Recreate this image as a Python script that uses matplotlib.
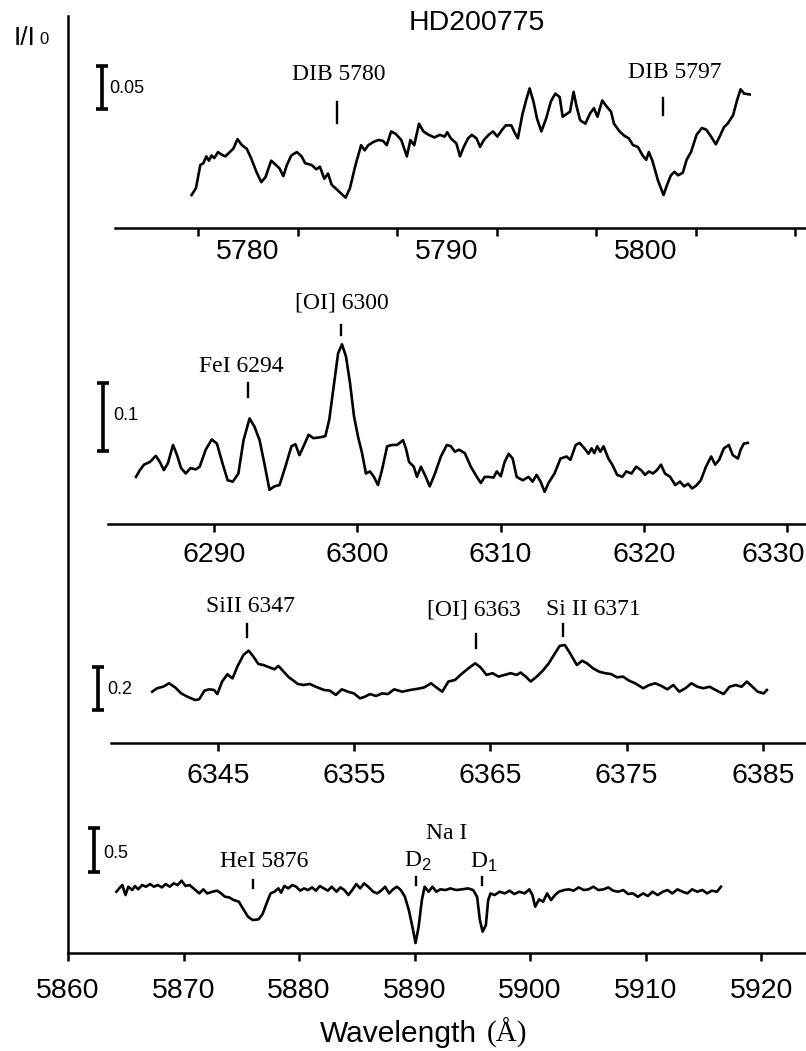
import matplotlib.pyplot as plt
from matplotlib.transforms import ScaledTranslation

plt.rcParams['font.family'] = ['Liberation Sans', 'DejaVu Sans']
plt.rcParams['mathtext.fontset'] = 'custom'
plt.rcParams['mathtext.rm'] = 'Liberation Serif'
plt.rcParams['mathtext.sf'] = 'Liberation Sans'

# ---- data (wavelength in Angstrom, relative intensity I/I0) ----
dib_wl = [5777.16, 5777.38, 5777.60, 5777.75, 5777.90, 5778.03, 5778.16, 5778.30, 5778.49, 5778.67,
          5778.86, 5779.08, 5779.26, 5779.47, 5779.69, 5779.93, 5780.15, 5780.42, 5780.66, 5780.88,
          5781.16, 5781.40, 5781.58, 5781.77, 5781.95, 5782.17, 5782.45, 5782.69, 5782.87, 5783.19,
          5783.43, 5783.61, 5783.83, 5784.02, 5784.20, 5784.48, 5784.90, 5785.12, 5785.40, 5785.68,
          5785.86, 5786.04, 5786.32, 5786.56, 5786.78, 5786.97, 5787.19, 5787.43, 5787.70, 5787.85,
          5787.98, 5788.16, 5788.35, 5788.59, 5788.81, 5789.08, 5789.36, 5789.64, 5789.88, 5790.01,
          5790.19, 5790.47, 5790.65, 5790.84, 5791.06, 5791.24, 5791.48, 5791.66, 5791.85, 5792.09,
          5792.31, 5792.53, 5792.77, 5792.95, 5793.23, 5793.41, 5793.56, 5793.78, 5793.97, 5794.15,
          5794.34, 5794.52, 5794.74, 5794.98, 5795.22, 5795.44, 5795.66, 5795.81, 5795.99, 5796.18,
          5796.36, 5796.51, 5796.69, 5796.95, 5797.19, 5797.38, 5797.56, 5797.80, 5798.02, 5798.24,
          5798.39, 5798.67, 5798.91, 5799.13, 5799.35, 5799.59, 5799.83, 5800.01, 5800.14, 5800.32,
          5800.60, 5800.88, 5801.06, 5801.25, 5801.43, 5801.61, 5801.85, 5802.04, 5802.26, 5802.54,
          5802.81, 5803.03, 5803.27, 5803.51, 5803.70, 5803.92, 5804.10, 5804.38, 5804.56, 5804.75,
          5804.93, 5805.21]
dib_flux = [0.938, 0.946, 0.973, 0.975, 0.983, 0.978, 0.984, 0.981, 0.988, 0.985,
            0.983, 0.988, 0.992, 1.003, 0.996, 0.992, 0.981, 0.965, 0.953, 0.959,
            0.978, 0.973, 0.969, 0.960, 0.973, 0.984, 0.988, 0.983, 0.975, 0.973,
            0.968, 0.971, 0.957, 0.963, 0.950, 0.944, 0.935, 0.946, 0.973, 0.996,
            0.990, 0.996, 1.000, 1.002, 1.001, 0.996, 1.012, 1.009, 1.002, 0.992,
            0.983, 1.002, 0.996, 1.021, 1.012, 1.008, 1.005, 1.008, 1.006, 1.011,
            1.004, 0.998, 0.983, 0.994, 1.004, 1.008, 1.004, 0.994, 1.002, 1.008,
            1.012, 1.006, 1.014, 1.019, 1.019, 1.010, 1.004, 1.031, 1.048, 1.062,
            1.047, 1.027, 1.012, 1.027, 1.047, 1.056, 1.052, 1.029, 1.032, 1.035,
            1.058, 1.041, 1.025, 1.021, 1.033, 1.039, 1.029, 1.048, 1.041, 1.035,
            1.021, 1.012, 1.007, 1.004, 0.996, 0.994, 0.984, 0.979, 0.988, 0.978,
            0.955, 0.938, 0.950, 0.961, 0.965, 0.961, 0.964, 0.979, 0.988, 1.008,
            1.016, 1.014, 1.006, 0.997, 1.006, 1.017, 1.021, 1.031, 1.047, 1.061,
            1.056, 1.055]

oi_wl = [6284.55, 6284.83, 6285.11, 6285.53, 6285.94, 6286.22, 6286.50, 6286.78, 6287.14, 6287.42,
         6287.70, 6288.03, 6288.36, 6288.73, 6289.00, 6289.42, 6289.84, 6290.20, 6290.59, 6290.95,
         6291.31, 6291.70, 6292.06, 6292.48, 6292.82, 6293.18, 6293.51, 6293.87, 6294.21, 6294.57,
         6294.98, 6295.40, 6295.68, 6295.96, 6296.29, 6296.60, 6296.93, 6297.35, 6297.77, 6298.04,
         6298.38, 6298.66, 6298.93, 6299.21, 6299.49, 6299.77, 6300.05, 6300.33, 6300.60, 6300.88,
         6301.16, 6301.44, 6301.72, 6302.08, 6302.44, 6302.77, 6303.19, 6303.39, 6303.61, 6303.94,
         6304.16, 6304.44, 6304.78, 6305.05, 6305.42, 6305.83, 6306.25, 6306.53, 6306.81, 6307.09,
         6307.50, 6307.92, 6308.34, 6308.62, 6308.89, 6309.17, 6309.51, 6309.73, 6310.01, 6310.28,
         6310.56, 6310.84, 6311.12, 6311.54, 6311.95, 6312.23, 6312.51, 6312.79, 6313.07, 6313.34,
         6313.76, 6314.18, 6314.60, 6314.87, 6315.24, 6315.51, 6315.85, 6316.13, 6316.35, 6316.54,
         6316.74, 6316.96, 6317.18, 6317.52, 6317.79, 6318.13, 6318.49, 6318.77, 6319.13, 6319.46,
         6319.80, 6320.08, 6320.35, 6320.63, 6320.91, 6321.19, 6321.47, 6321.83, 6322.19, 6322.52,
         6322.80, 6323.08, 6323.36, 6323.64, 6323.97, 6324.33, 6324.69, 6324.97, 6325.25, 6325.58,
         6325.92, 6326.20, 6326.56, 6326.75, 6326.97, 6327.25]
oi_flux = [0.980, 0.990, 0.998, 1.002, 1.011, 1.002, 0.990, 1.000, 1.027, 1.012,
           0.993, 0.985, 0.993, 0.991, 0.995, 1.020, 1.035, 1.029, 1.000, 0.975,
           0.973, 0.985, 1.034, 1.066, 1.054, 1.034, 1.000, 0.961, 0.966, 0.968,
           0.995, 1.025, 1.028, 1.012, 1.027, 1.042, 1.037, 1.038, 1.040, 1.064,
           1.118, 1.162, 1.175, 1.157, 1.118, 1.069, 1.039, 1.015, 0.985, 0.988,
           0.980, 0.968, 0.990, 1.025, 1.027, 1.027, 1.034, 1.022, 1.002, 0.995,
           0.980, 0.995, 0.980, 0.966, 0.985, 1.010, 1.027, 1.025, 1.017, 1.020,
           1.015, 0.995, 0.980, 0.971, 0.980, 0.980, 0.979, 0.988, 0.981, 1.002,
           1.014, 1.007, 0.980, 0.975, 0.980, 0.973, 0.983, 0.973, 0.958, 0.971,
           0.985, 1.007, 1.010, 1.005, 1.027, 1.030, 1.022, 1.014, 1.022, 1.015,
           1.025, 1.017, 1.025, 1.007, 0.998, 0.983, 0.980, 0.988, 0.985, 0.995,
           0.990, 0.983, 0.988, 0.985, 0.990, 0.998, 0.985, 0.980, 0.968, 0.973,
           0.966, 0.970, 0.963, 0.967, 0.975, 0.995, 1.010, 0.998, 1.005, 1.022,
           1.027, 1.012, 1.007, 1.020, 1.029, 1.030]

si_wl = [6340.17, 6340.53, 6340.97, 6341.41, 6341.85, 6342.30, 6342.74, 6343.33, 6343.62, 6344.01,
         6344.36, 6344.71, 6344.95, 6345.30, 6345.69, 6346.07, 6346.42, 6346.87, 6347.25, 6347.60,
         6347.96, 6348.34, 6348.78, 6349.14, 6349.43, 6349.82, 6350.20, 6350.55, 6350.85, 6351.29,
         6351.73, 6352.18, 6352.77, 6353.21, 6353.65, 6354.09, 6354.53, 6354.98, 6355.42, 6355.80,
         6356.16, 6356.60, 6357.04, 6357.48, 6357.93, 6358.52, 6359.11, 6359.70, 6360.14, 6360.64,
         6361.11, 6361.46, 6361.91, 6362.41, 6362.94, 6363.47, 6363.88, 6364.27, 6364.71, 6365.15,
         6365.59, 6366.04, 6366.48, 6366.92, 6367.21, 6367.60, 6367.95, 6368.39, 6368.84, 6369.28,
         6369.66, 6370.08, 6370.46, 6370.84, 6371.34, 6371.73, 6372.08, 6372.52, 6372.97, 6373.41,
         6373.85, 6374.29, 6374.74, 6375.18, 6375.62, 6376.21, 6376.65, 6377.09, 6377.54, 6377.98,
         6378.42, 6378.86, 6379.31, 6379.75, 6380.19, 6380.63, 6381.08, 6381.52, 6382.11, 6382.55,
         6382.99, 6383.43, 6383.82, 6384.23, 6384.61, 6385.06, 6385.29]
si_flux = [0.961, 0.977, 0.984, 1.000, 0.981, 0.953, 0.938, 0.922, 0.926, 0.966,
           0.972, 0.969, 0.950, 1.008, 1.042, 1.023, 1.078, 1.132, 1.152, 1.124,
           1.090, 1.085, 1.074, 1.065, 1.081, 1.054, 1.028, 1.012, 0.997, 0.992,
           0.997, 0.984, 0.969, 0.966, 0.946, 0.972, 0.961, 0.953, 0.930, 0.938,
           0.950, 0.941, 0.953, 0.950, 0.972, 0.961, 0.969, 0.975, 0.981, 1.000,
           0.977, 0.961, 1.008, 1.016, 1.047, 1.074, 1.093, 1.074, 1.039, 1.047,
           1.031, 1.039, 1.047, 1.039, 1.050, 1.031, 1.008, 1.031, 1.059, 1.093,
           1.132, 1.174, 1.178, 1.140, 1.085, 1.105, 1.093, 1.070, 1.054, 1.047,
           1.043, 1.028, 1.031, 1.012, 1.000, 0.977, 0.992, 1.000, 0.988, 0.972,
           0.992, 0.961, 0.977, 1.000, 0.984, 0.977, 0.984, 0.969, 0.950, 0.984,
           0.992, 0.984, 1.008, 0.984, 0.961, 0.953, 0.969]

na_wl = [5864.19, 5864.43, 5864.70, 5864.98, 5865.22, 5865.56, 5865.80, 5866.07, 5866.41, 5866.75,
         5867.10, 5867.44, 5867.78, 5868.12, 5868.46, 5868.81, 5869.15, 5869.49, 5869.83, 5870.17,
         5870.52, 5871.03, 5871.37, 5871.71, 5872.06, 5872.50, 5872.91, 5873.25, 5873.59, 5873.94,
         5874.35, 5874.79, 5875.13, 5875.58, 5875.99, 5876.50, 5876.84, 5877.19, 5877.53, 5877.87,
         5878.21, 5878.45, 5878.72, 5879.07, 5879.41, 5879.75, 5880.09, 5880.43, 5880.78, 5881.12,
         5881.46, 5881.80, 5882.14, 5882.49, 5882.83, 5883.24, 5883.58, 5883.92, 5884.27, 5884.61,
         5884.95, 5885.29, 5885.63, 5885.98, 5886.42, 5886.76, 5887.10, 5887.45, 5887.79, 5888.13,
         5888.47, 5888.81, 5889.16, 5889.50, 5889.84, 5890.08, 5890.35, 5890.63, 5890.87, 5891.21,
         5891.55, 5891.89, 5892.23, 5892.68, 5893.09, 5893.60, 5894.11, 5894.63, 5895.07, 5895.41,
         5895.65, 5895.89, 5896.17, 5896.37, 5896.58, 5896.92, 5897.36, 5897.81, 5898.22, 5898.63,
         5899.07, 5899.52, 5899.93, 5900.20, 5900.44, 5900.78, 5901.13, 5901.47, 5901.81, 5902.15,
         5902.49, 5902.94, 5903.35, 5903.76, 5904.20, 5904.65, 5905.06, 5905.47, 5905.91, 5906.36,
         5906.77, 5907.18, 5907.62, 5908.07, 5908.48, 5908.89, 5909.33, 5909.78, 5910.19, 5910.60,
         5911.04, 5911.49, 5911.90, 5912.31, 5912.75, 5913.20, 5913.61, 5914.02, 5914.46, 5914.91,
         5915.32, 5915.73, 5916.17, 5916.52]
na_flux = [0.943, 0.981, 1.019, 0.905, 1.000, 0.962, 1.008, 0.970, 1.019, 1.000,
           1.030, 1.000, 1.019, 0.992, 1.030, 1.000, 1.038, 1.019, 1.068, 1.008,
           1.019, 0.962, 0.924, 0.970, 0.924, 0.943, 0.955, 0.924, 0.886, 0.879,
           0.848, 0.830, 0.754, 0.659, 0.621, 0.629, 0.689, 0.811, 0.924, 0.943,
           0.981, 0.932, 1.008, 0.981, 1.019, 1.000, 0.955, 0.981, 0.962, 0.992,
           0.955, 1.008, 0.981, 0.955, 1.000, 0.943, 0.992, 0.962, 0.905, 0.962,
           1.030, 0.981, 1.038, 1.000, 0.943, 0.924, 0.955, 1.000, 0.924, 0.970,
           1.000, 0.962, 0.886, 0.735, 0.527, 0.360, 0.545, 0.848, 1.000, 0.943,
           1.000, 0.943, 0.970, 0.962, 0.981, 0.962, 0.970, 0.981, 0.962, 0.886,
           0.621, 0.489, 0.564, 0.848, 0.924, 0.905, 0.943, 0.924, 0.955, 0.917,
           0.943, 0.924, 0.970, 0.905, 0.773, 0.856, 0.830, 0.924, 0.848, 0.905,
           0.943, 0.962, 0.970, 0.955, 0.992, 0.962, 0.970, 1.000, 0.962, 0.970,
           0.992, 0.955, 0.943, 0.962, 0.917, 0.924, 0.886, 0.924, 0.894, 0.943,
           0.905, 0.943, 0.962, 0.924, 0.970, 0.943, 0.924, 0.970, 0.943, 0.962,
           0.924, 0.955, 0.943, 1.000]

dib_ticks = [5780, 5790, 5800]
dib_minor = [5777.5, 5782.5, 5787.5, 5792.5, 5797.5, 5802.5, 5807.5]
oi_ticks = [6290, 6300, 6310, 6320, 6330]
si_ticks = [6345, 6355, 6365, 6375, 6385]
na_ticks = [5860, 5870, 5880, 5890, 5900, 5910, 5920]

W, H = 806, 1051
fig = plt.figure(figsize=(W / 100, H / 100), dpi=100)

LW = 1.9       # spectrum line
AXLW = 1.8     # axis lines


def box(x0, y0, x1, y1):
    # pixel box (top-left origin) -> figure rect
    return [x0 / W, 1 - y1 / H, (x1 - x0) / W, (y1 - y0) / H]


def style_panel(ax, xlim, ylim, start, pad):
    ax.set_xlim(xlim)
    ax.set_ylim(ylim)
    ax.patch.set_visible(False)
    for side in ('top', 'right', 'left'):
        ax.spines[side].set_visible(False)
    ax.spines['bottom'].set_bounds(start, xlim[1])
    ax.spines['bottom'].set_linewidth(AXLW)
    ax.set_yticks([])
    ax.tick_params(axis='x', which='both', direction='out', length=6, width=AXLW,
                   labelsize=20.5, pad=pad)


def mark(ax, x, y0, y1, label, tx, ty):
    ax.plot([x, x], [y0, y1], color='black', lw=1.7)
    ax.text(tx, ty, label, ha='center', va='center', fontsize=17,
            family=['Liberation Serif', 'DejaVu Serif'])


def scale_bar(ax, x, y0, y1, label, tx, ty):
    ax.errorbar([x], [(y0 + y1) / 2], yerr=[(y1 - y0) / 2], fmt='none', ecolor='black',
                elinewidth=2.6, capsize=4, capthick=2.6)
    ax.text(tx, ty, label, ha='left', va='center', fontsize=13)


ax4 = fig.add_axes(box(68, 16, 806, 953))
ax1 = fig.add_axes(box(68, 40, 806, 228))
ax2 = fig.add_axes(box(68, 290, 806, 524))
ax3 = fig.add_axes(box(68, 590, 806, 743))

# top panel: DIBs
style_panel(ax1, (5770.95, 5808.04), (0.8997, 1.1183), 5773.3, 8)
ax1.set_xticks(dib_ticks)
ax1.set_xticks(dib_minor, minor=True)
ax1.tick_params(axis='x', which='major', length=0)
ax1.plot(dib_wl, dib_flux, color='black', lw=LW, solid_joinstyle='round')
mark(ax1, 5784.48, 1.022, 1.046, 'DIB 5780', 5784.57, 1.078)
mark(ax1, 5800.84, 1.031, 1.051, 'DIB 5797', 5801.46, 1.081)
scale_bar(ax1, 5772.66, 1.038, 1.088, '0.05', 5773.02, 1.062)

# [OI] 6300 panel
style_panel(ax2, (6279.81, 6331.31), (0.9107, 1.2549), 6282.6, 7)
ax2.set_xticks(oi_ticks)
ax2.plot(oi_wl, oi_flux, color='black', lw=LW, solid_joinstyle='round')
mark(ax2, 6292.35, 1.098, 1.118, 'FeI 6294', 6291.88, 1.142)
mark(ax2, 6298.84, 1.189, 1.203, '[OI] 6300', 6298.91, 1.236)
scale_bar(ax2, 6282.25, 1.018, 1.118, '0.1', 6282.95, 1.070)
# the last label sits against the right edge of the picture
last = ax2.get_xticklabels()[-1]
last.set_transform(last.get_transform() + ScaledTranslation(-0.14, 0, fig.dpi_scale_trans))

# Si II / [OI] 6363 panel
style_panel(ax3, (6333.99, 6388.16), (0.7223, 1.434), 6337.15, 8.4)
ax3.set_xticks(si_ticks)
ax3.plot(si_wl, si_flux, color='black', lw=LW, solid_joinstyle='round')
mark(ax3, 6347.11, 1.215, 1.276, 'SiII 6347', 6347.41, 1.355)
mark(ax3, 6363.91, 1.164, 1.229, '[OI] 6363', 6363.79, 1.341)
mark(ax3, 6370.34, 1.220, 1.276, 'Si II 6371', 6372.58, 1.341)
scale_bar(ax3, 6336.19, 0.876, 1.076, '0.2', 6336.85, 0.973)

# bottom panel: He I and Na I D (main axes)
ax4.set_xlim(5860, 5923.88)
ax4.set_ylim(0.2466, 10.895)
ax4.spines['top'].set_visible(False)
ax4.spines['right'].set_visible(False)
ax4.spines['left'].set_linewidth(AXLW)
ax4.spines['bottom'].set_linewidth(AXLW)
ax4.set_yticks([])
ax4.set_xticks(na_ticks)
ax4.tick_params(axis='x', direction='out', length=6, width=AXLW, labelsize=20.5, pad=12)
ax4.plot(na_wl, na_flux, color='black', lw=LW, solid_joinstyle='round')
mark(ax4, 5876.04, 0.985, 1.076, 'HeI 5876', 5876.97, 1.292)
mark(ax4, 5890.15, 1.019, 1.110, r'D$_\mathsf{2}$', 5890.32, 1.292)
mark(ax4, 5895.86, 1.019, 1.110, r'D$_\mathsf{1}$', 5896.0, 1.281)
ax4.text(5892.74, 1.610, 'Na I', ha='center', va='center', fontsize=17,
         family=['Liberation Serif', 'DejaVu Serif'])
scale_bar(ax4, 5862.21, 1.167, 1.667, '0.5', 5863.07, 1.383)

# figure texts
fig.text(477 / W, 1 - 23 / H, 'HD200775', ha='center', va='center', fontsize=20.5)
fig.text(14 / W, 1 - 45 / H, 'I/I', ha='left', va='baseline', fontsize=19)
fig.text(39 / W, 1 - 44 / H, '0', ha='left', va='baseline', fontsize=12)
fig.text(320 / W, 1 - 1042 / H, 'Wavelength', ha='left', va='baseline', fontsize=21.5)
fig.text(487 / W, 1 - 1042 / H, '(Å)', ha='left', va='baseline', fontsize=21,
         family=['Liberation Serif', 'DejaVu Serif'])

fig.savefig('out.png', dpi=100)
